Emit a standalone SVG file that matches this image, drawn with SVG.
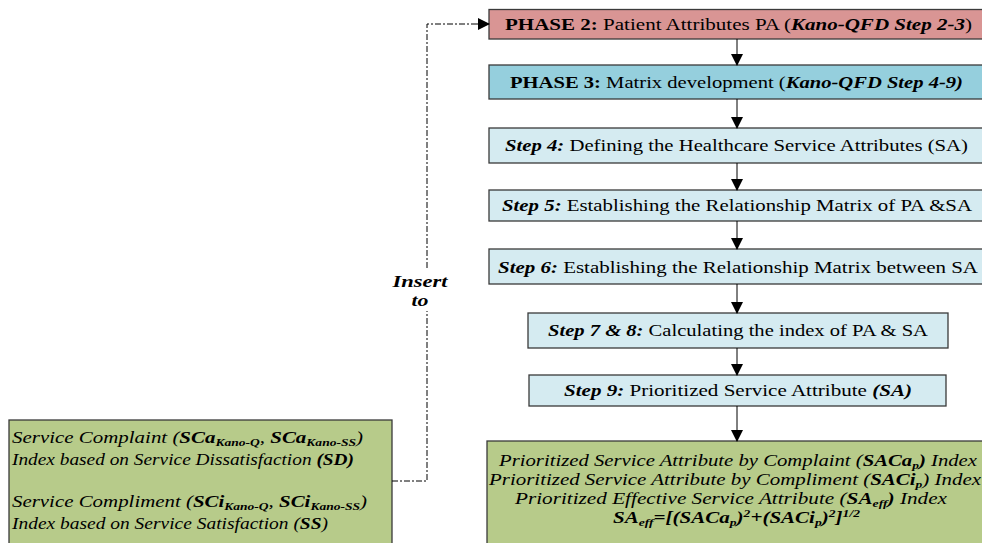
<svg xmlns="http://www.w3.org/2000/svg" width="982" height="543" viewBox="0 0 982 543" font-family="'Liberation Serif', 'Times New Roman', serif">
<style>
text, tspan { font-family: 'Liberation Serif', 'Times New Roman', serif; fill: #000; }
.box{stroke:#3a3a3a;stroke-width:1.3;}
.p2{fill:#d99594;}
.p3{fill:#95cfdd;}
.st{fill:#d5ebf1;}
.gr{fill:#b7cb8a;}
.t{font-size:17px;}
.g{font-size:17px;font-style:italic;}
.b{font-weight:bold;}
.bi{font-weight:bold;font-style:italic;}
.sub{font-size:11px;}
.conn{stroke:#000;stroke-width:1;fill:none;}
.dash{stroke:#000;stroke-width:1;fill:none;stroke-dasharray:6,2,2,2;}
</style>
<defs>
<marker id="ah" markerWidth="12" markerHeight="12" refX="11" refY="6" orient="auto" markerUnits="userSpaceOnUse">
<path d="M0,0 L12,6 L0,12 Z" fill="#000"/>
</marker>
</defs>
<rect width="982" height="543" fill="#fff"/>

<g id="phase2">
<rect class="box p2" x="489" y="9.5" width="500" height="29.5"/>
<text class="t" x="738.5" y="29.5" text-anchor="middle" textLength="467" lengthAdjust="spacingAndGlyphs"><tspan class="b">PHASE 2:</tspan> Patient Attributes PA (<tspan class="bi">Kano-QFD Step 2-3</tspan>)</text>
</g>
<g id="phase3">
<rect class="box p3" x="489" y="65" width="500" height="34"/>
<text class="t" x="736.5" y="88" text-anchor="middle" textLength="453" lengthAdjust="spacingAndGlyphs"><tspan class="b">PHASE 3:</tspan> Matrix development (<tspan class="bi">Kano-QFD Step 4-9)</tspan></text>
</g>
<g id="step4">
<rect class="box st" x="489" y="128" width="500" height="35"/>
<text class="t" x="736.5" y="151" text-anchor="middle" textLength="463" lengthAdjust="spacingAndGlyphs"><tspan class="bi">Step 4:</tspan> Defining the Healthcare Service Attributes (SA)</text>
</g>
<g id="step5">
<rect class="box st" x="489" y="190" width="500" height="31"/>
<text class="t" x="737" y="211" text-anchor="middle" textLength="470" lengthAdjust="spacingAndGlyphs"><tspan class="bi">Step 5:</tspan> Establishing the Relationship Matrix of PA &amp;SA</text>
</g>
<g id="step6">
<rect class="box st" x="489" y="249" width="500" height="35"/>
<text class="t" x="738" y="273" text-anchor="middle" textLength="480" lengthAdjust="spacingAndGlyphs"><tspan class="bi">Step 6:</tspan> Establishing the Relationship Matrix between SA</text>
</g>
<g id="step78">
<rect class="box st" x="528" y="313" width="420" height="35"/>
<text class="t" x="738" y="336" text-anchor="middle" textLength="380" lengthAdjust="spacingAndGlyphs"><tspan class="bi">Step 7 &amp; 8:</tspan> Calculating the index of PA &amp; SA</text>
</g>
<g id="step9">
<rect class="box st" x="529" y="375" width="417" height="31"/>
<text class="t" x="738" y="396" text-anchor="middle" textLength="348" lengthAdjust="spacingAndGlyphs"><tspan class="bi">Step 9:</tspan> Prioritized Service Attribute <tspan class="bi">(SA)</tspan></text>
</g>
<g id="result">
<rect class="box gr" x="487" y="441" width="502" height="106"/>
<text class="g" x="738" y="466" text-anchor="middle" textLength="478" lengthAdjust="spacingAndGlyphs">Prioritized Service Attribute by Complaint (<tspan class="b">SACa</tspan><tspan class="b sub" dy="3">p</tspan><tspan class="b" dy="-3">)</tspan> Index</text>
<text class="g" x="735" y="485" text-anchor="middle" textLength="492" lengthAdjust="spacingAndGlyphs">Prioritized Service Attribute by Compliment (<tspan class="b">SACi</tspan><tspan class="b sub" dy="3">p</tspan><tspan dy="-3">)</tspan> Index</text>
<text class="g" x="731" y="504" text-anchor="middle" textLength="432" lengthAdjust="spacingAndGlyphs">Prioritized Effective Service Attribute (<tspan class="b">SA</tspan><tspan class="b sub" dy="3">eff</tspan><tspan class="b" dy="-3">)</tspan> Index</text>
<text class="g b" x="736.5" y="523" text-anchor="middle" textLength="247" lengthAdjust="spacingAndGlyphs">SA<tspan class="sub" dy="3">eff</tspan><tspan dy="-3">=[(SACa</tspan><tspan class="sub" dy="3">p</tspan><tspan dy="-3">)</tspan><tspan class="sub" dy="-6">2</tspan><tspan dy="6">+(SACi</tspan><tspan class="sub" dy="3">p</tspan><tspan dy="-3">)</tspan><tspan class="sub" dy="-6">2</tspan><tspan dy="6">]</tspan><tspan class="sub" dy="-6">1/2</tspan></text>
</g>
<g id="indexes">
<rect class="box gr" x="9" y="420" width="383" height="127"/>
<text class="g" x="12" y="443" textLength="351" lengthAdjust="spacingAndGlyphs">Service Complaint (<tspan class="b">SCa</tspan><tspan class="b sub" dy="3">Kano-Q</tspan><tspan dy="-3">, </tspan><tspan class="b">SCa</tspan><tspan class="b sub" dy="3">Kano-SS</tspan><tspan dy="-3">)</tspan></text>
<text class="g" x="12" y="465" textLength="342" lengthAdjust="spacingAndGlyphs">Index based on Service Dissatisfaction <tspan class="b">(SD)</tspan></text>
<text class="g" x="12" y="507" textLength="355" lengthAdjust="spacingAndGlyphs">Service Compliment (<tspan class="b">SCi</tspan><tspan class="b sub" dy="3">Kano-Q</tspan><tspan dy="-3">, </tspan><tspan class="b">SCi</tspan><tspan class="b sub" dy="3">Kano-SS</tspan><tspan dy="-3">)</tspan></text>
<text class="g" x="12" y="529" textLength="316" lengthAdjust="spacingAndGlyphs">Index based on Service Satisfaction (<tspan class="b">SS</tspan>)</text>
</g>
<g id="connectors">
<line class="conn" x1="737" y1="39" x2="737" y2="65" marker-end="url(#ah)"/>
<line class="conn" x1="737" y1="99" x2="737" y2="128" marker-end="url(#ah)"/>
<line class="conn" x1="737" y1="163" x2="737" y2="190" marker-end="url(#ah)"/>
<line class="conn" x1="737" y1="221" x2="737" y2="249" marker-end="url(#ah)"/>
<line class="conn" x1="737" y1="284" x2="737" y2="313" marker-end="url(#ah)"/>
<line class="conn" x1="737" y1="348" x2="737" y2="375" marker-end="url(#ah)"/>
<line class="conn" x1="737" y1="406" x2="737" y2="441" marker-end="url(#ah)"/>
<polyline class="dash" points="392,481 427,481 427,311"/>
<polyline class="dash" points="427,268 427,24 476,24"/>
<line class="conn" x1="476" y1="24" x2="489" y2="24" marker-end="url(#ah)"/>
<text class="bi" x="420" y="287" text-anchor="middle" font-size="17" textLength="55" lengthAdjust="spacingAndGlyphs">Insert</text>
<text class="bi" x="420" y="306" text-anchor="middle" font-size="17" textLength="17" lengthAdjust="spacingAndGlyphs">to</text>
</g>
</svg>
